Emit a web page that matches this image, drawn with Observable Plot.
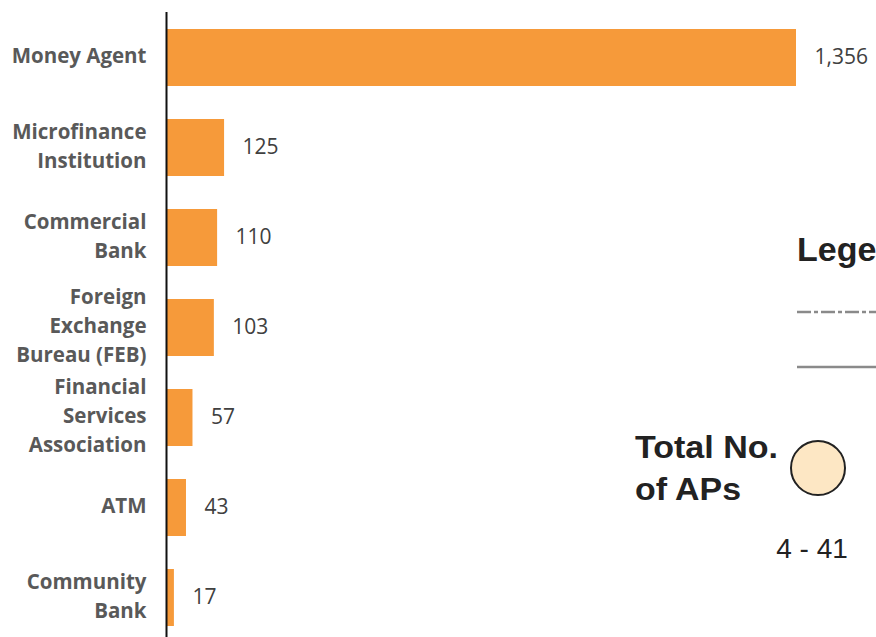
<!DOCTYPE html>
<html>
<head>
<meta charset="utf-8">
<script src="https://cdn.jsdelivr.net/npm/d3@7"></script>
<script src="https://cdn.jsdelivr.net/npm/@observablehq/plot@0.6"></script>
<style>
  html, body { margin: 0; padding: 0; background: #fff; }
  #wrap { position: relative; width: 876px; height: 637px; overflow: hidden; }
  #legend { position: absolute; left: 0; top: 0; pointer-events: none; }
</style>
</head>
<body>
<div id="wrap">
  <div id="chart"></div>
  <svg id="legend" width="876" height="637" font-family="'Liberation Sans', Arial, sans-serif">
    <text x="797" y="261" font-size="34" font-weight="bold" fill="#222">Legend</text>
    <line x1="797" x2="876" y1="312" y2="312" stroke="#8a8a8a" stroke-width="2.5" stroke-dasharray="14,3,4,3"/>
    <line x1="797" x2="876" y1="367" y2="367" stroke="#8a8a8a" stroke-width="2.5"/>
    <text x="635" y="458" font-size="31" font-weight="bold" fill="#222" textLength="143" lengthAdjust="spacingAndGlyphs">Total No.</text>
    <text x="635" y="500" font-size="31" font-weight="bold" fill="#222" textLength="106" lengthAdjust="spacingAndGlyphs">of APs</text>
    <circle cx="818" cy="468" r="27" fill="#FDE7C4" stroke="#222" stroke-width="2"/>
    <text x="812" y="558" font-size="28" fill="#222" text-anchor="middle">4 - 41</text>
  </svg>
</div>
<script>
const categories = [
  "Money Agent",
  "Microfinance\nInstitution",
  "Commercial\nBank",
  "Foreign\nExchange\nBureau (FEB)",
  "Financial\nServices\nAssociation",
  "ATM",
  "Community\nBank"
];
const counts = [1356, 125, 110, 103, 57, 43, 17];

const data = categories.map((c, i) => ({category: c, count: counts[i]}));

const chart = Plot.plot({
  width: 876,
  height: 637,
  marginLeft: 166,
  marginRight: 80,
  marginTop: 28,
  marginBottom: 10,
  style: {fontFamily: "'Open Sans', sans-serif", background: "transparent", overflow: "visible"},
  x: {domain: [0, 1356], axis: null},
  y: {domain: categories, paddingInner: 0.37, paddingOuter: 0, label: null},
  marks: [
    Plot.barX(data, {x: "count", y: "category", fill: "#F69A3A"}),
    Plot.text(data, {
      x: "count", y: "category", text: d => d3.format(",")(d.count),
      textAnchor: "start", dx: 18, dy: -1, fontSize: 21, fill: "#404040"
    }),
    Plot.axisY({
      tickSize: 0, tickPadding: 20, fontSize: 20.5, fontWeight: "bold",
      fill: "#595959", lineHeight: 1.42, dy: -4, label: null
    }),
    Plot.ruleX([0], {stroke: "#111", strokeWidth: 2, insetTop: -16, insetBottom: -10})
  ]
});
document.getElementById("chart").appendChild(chart);
</script>
</body>
</html>
